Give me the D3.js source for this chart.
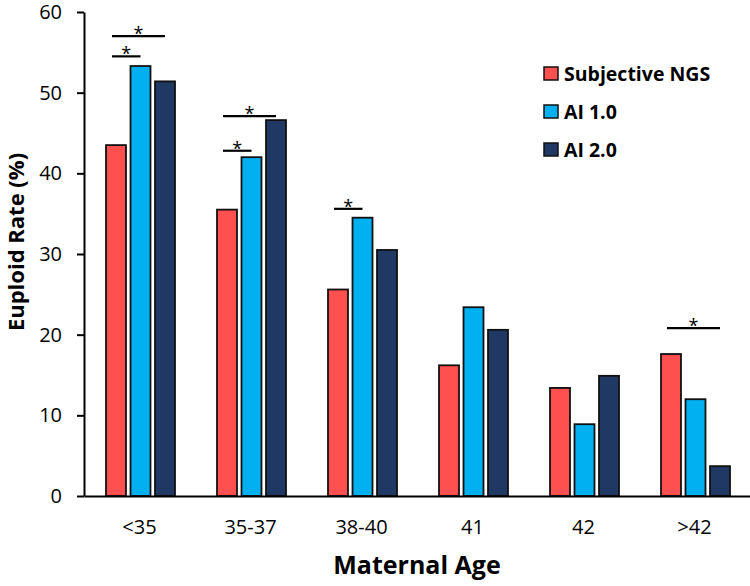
<!DOCTYPE html>
<html>
<head>
<meta charset="utf-8">
<script src="https://cdn.jsdelivr.net/npm/d3@7"></script>
<style>
  html, body { margin: 0; padding: 0; background: #fff; }
  svg { display: block; font-family: "Open Sans", sans-serif; }
</style>
</head>
<body>
<svg id="chart" width="750" height="586"></svg>
<script>
// ---- data ----
const categories = ["<35", "35-37", "38-40", "41", "42", ">42"];
const seriesNames = ["Subjective NGS", "AI 1.0", "AI 2.0"];
const subjectiveNGS = [43.5, 35.5, 25.6, 16.2, 13.4, 17.6];
const ai10 = [53.3, 42.0, 34.5, 23.4, 8.9, 12.0];
const ai20 = [51.4, 46.6, 30.5, 20.6, 14.9, 3.7];
const yTicks = [0, 10, 20, 30, 40, 50, 60];
// significance brackets: group, from series, to series, bracket level (% units)
const sigGroup = ["<35", "<35", "35-37", "35-37", "38-40", ">42"];
const sigFrom = ["Subjective NGS", "Subjective NGS", "Subjective NGS", "Subjective NGS", "Subjective NGS", "Subjective NGS"];
const sigTo = ["AI 1.0", "AI 2.0", "AI 1.0", "AI 2.0", "AI 1.0", "AI 2.0"];
const sigLevel = [54.5, 57.0, 42.8, 47.1, 35.6, 20.8];

const colors = ["#FF5050", "#00B0F0", "#1F3864"];
const seriesValues = [subjectiveNGS, ai10, ai20];

// ---- layout ----
const svg = d3.select("#chart");
const mLeft = 84, mRight = 750, mTop = 12, mBottom = 496;

const x0 = d3.scaleBand().domain(categories).range([mLeft, mRight]).paddingInner(0).paddingOuter(0);
const x1 = d3.scaleBand().domain(seriesNames).range([22, 91]).paddingInner(0.184).paddingOuter(0);
const y = d3.scaleLinear().domain([0, 60]).range([mBottom, mTop]);
const color = d3.scaleOrdinal().domain(seriesNames).range(colors);

const rows = categories.map((c, i) => ({
  cat: c,
  vals: seriesNames.map((s, j) => ({ series: s, value: seriesValues[j][i] }))
}));

// bars
const g = svg.append("g");
g.selectAll("g.grp").data(rows).join("g")
  .attr("class", "grp")
  .attr("transform", d => `translate(${x0(d.cat)},0)`)
  .selectAll("rect").data(d => d.vals).join("rect")
  .attr("x", d => x1(d.series))
  .attr("y", d => y(d.value))
  .attr("width", x1.bandwidth())
  .attr("height", d => y(0) - y(d.value))
  .attr("fill", d => color(d.series))
  .attr("stroke", "#111")
  .attr("stroke-width", 1.8);

// y axis
const yAxis = d3.axisLeft(y).tickValues(yTicks).tickSize(7).tickSizeOuter(0).tickPadding(15);
const yg = svg.append("g").attr("transform", `translate(${mLeft},0)`).call(yAxis);
yg.select(".domain").attr("stroke", "#000").attr("stroke-width", 2);
yg.selectAll(".tick line").attr("stroke", "#000").attr("stroke-width", 2);
yg.selectAll(".tick text").attr("font-size", 20).attr("font-family", "Open Sans").attr("fill", "#000");

// x axis
const xAxis = d3.axisBottom(x0).tickSize(0).tickSizeOuter(0).tickPadding(24);
const xg = svg.append("g").attr("transform", `translate(0,${mBottom})`).call(xAxis);
xg.select(".domain").attr("stroke", "#000").attr("stroke-width", 2);
xg.selectAll(".tick text").attr("font-size", 20).attr("font-family", "Open Sans").attr("fill", "#000");

// axis titles
svg.append("text")
  .attr("x", (mLeft + mRight) / 2).attr("y", 574)
  .attr("text-anchor", "middle")
  .attr("font-size", 25).attr("font-weight", "bold")
  .text("Maternal Age");

svg.append("text")
  .attr("transform", `translate(24,242) rotate(-90)`)
  .attr("text-anchor", "middle")
  .attr("font-size", 22).attr("font-weight", "bold")
  .text("Euploid Rate (%)");

// significance brackets
const sig = sigGroup.map((gname, i) => ({
  x1: x0(gname) + x1(sigFrom[i]) + x1.bandwidth() / 2 - 4,
  x2: x0(gname) + x1(sigTo[i]) + x1.bandwidth() / 2,
  yv: y(sigLevel[i])
}));
const sg = svg.append("g");
sg.selectAll("line").data(sig).join("line")
  .attr("x1", d => d.x1).attr("x2", d => d.x2)
  .attr("y1", d => d.yv).attr("y2", d => d.yv)
  .attr("stroke", "#000").attr("stroke-width", 2.2);
sg.selectAll("text").data(sig).join("text")
  .attr("x", d => (d.x1 + d.x2) / 2)
  .attr("y", d => d.yv + 4)
  .attr("text-anchor", "middle")
  .attr("font-size", 18)
  .text("*");

// legend
const lg = svg.append("g").attr("transform", "translate(544,67)");
const li = lg.selectAll("g").data(seriesNames).join("g")
  .attr("transform", (d, i) => `translate(0,${i * 38})`);
li.append("rect")
  .attr("width", 14).attr("height", 13)
  .attr("fill", d => color(d))
  .attr("stroke", "#111").attr("stroke-width", 1.5);
li.append("text")
  .attr("x", 20).attr("y", 13.5)
  .attr("font-size", 19.5).attr("font-weight", "bold")
  .text(d => d);
</script>
</body>
</html>
